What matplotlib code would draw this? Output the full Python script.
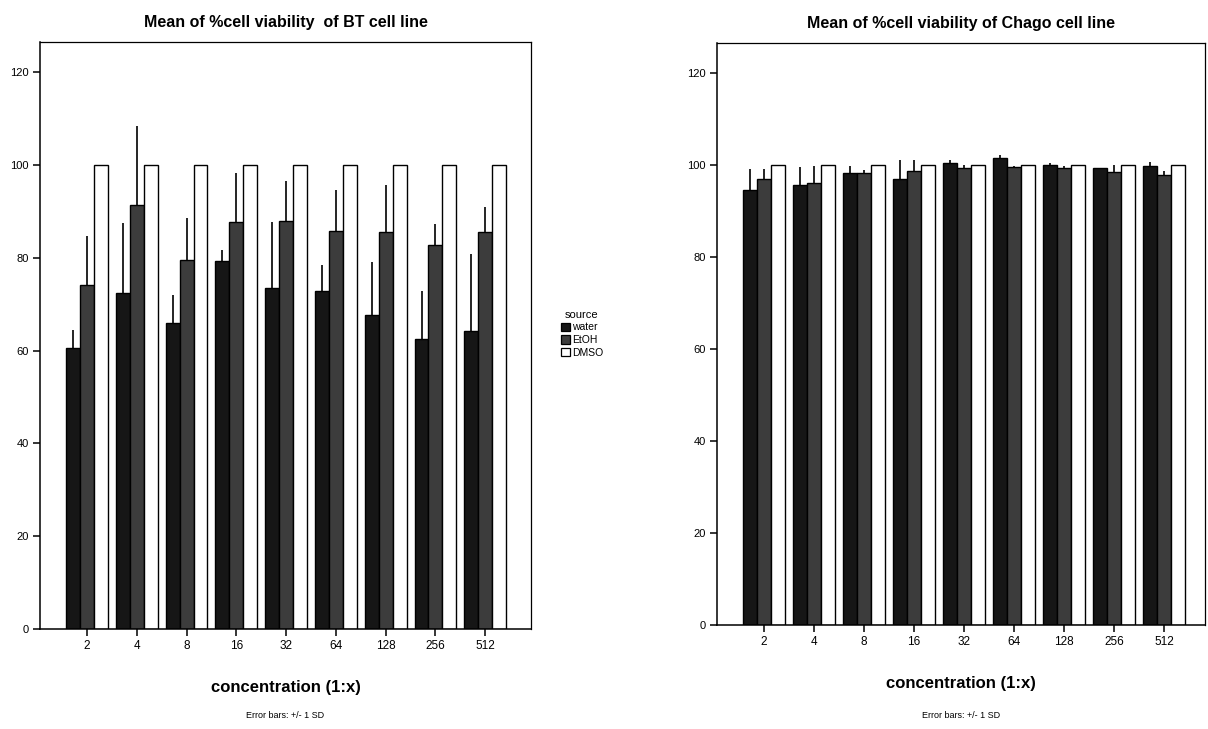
import matplotlib
matplotlib.use("Agg")
import matplotlib.pyplot as plt
from matplotlib.patches import Patch
import numpy as np

plt.rcParams['font.family'] = ['Liberation Sans', 'DejaVu Sans']

categories = ["2", "4", "8", "16", "32", "64", "128", "256", "512"]
series = ["water", "EtOH", "DMSO"]

bt_water = [60.6, 72.4, 65.9, 79.2, 73.4, 72.9, 67.6, 62.4, 64.2]
bt_water_sd = [3.8, 15.0, 6.0, 2.5, 14.2, 5.6, 11.4, 10.5, 16.6]
bt_etoh = [74.1, 91.4, 79.5, 87.6, 88.0, 85.7, 85.5, 82.7, 85.5]
bt_etoh_sd = [10.6, 16.9, 9.0, 10.6, 8.6, 8.8, 10.1, 4.6, 5.5]
bt_dmso = [100, 100, 100, 100, 100, 100, 100, 100, 100]
bt_dmso_sd = [0, 0, 0, 0, 0, 0, 0, 0, 0]

ch_water = [94.5, 95.6, 98.3, 97.0, 100.4, 101.6, 100.1, 99.3, 99.8]
ch_water_sd = [4.6, 4.0, 1.5, 4.0, 0.8, 0.5, 0.3, 0.1, 0.9]
ch_etoh = [97.0, 96.2, 98.3, 98.8, 99.4, 99.6, 99.4, 98.6, 97.8]
ch_etoh_sd = [2.1, 3.6, 0.6, 2.2, 0.7, 0.3, 0.3, 1.5, 0.9]
ch_dmso = [100, 100, 100, 100, 100, 100, 100, 100, 100]
ch_dmso_sd = [0, 0, 0, 0, 0, 0, 0, 0, 0]

titles = ["Mean of %cell viability  of BT cell line",
          "Mean of %cell viability of Chago cell line"]
xlabel = "concentration (1:x)"
note = "Error bars: +/- 1 SD"
yticks = [0, 20, 40, 60, 80, 100, 120]

colors = ["#161616", "#3c3c3c", "#ffffff"]

fig = plt.figure(figsize=(12.08, 7.29), dpi=100)
fig.patch.set_facecolor("white")

ax_bt = fig.add_axes([0.0331, 0.1372, 0.4065, 0.8052])
ax_ch = fig.add_axes([0.5935, 0.1427, 0.4040, 0.7980])

def draw(ax, vals, sds, title, xlim, note_y):
    x = np.arange(len(categories))
    w = 0.28
    offs = [-w, 0, w]
    for v, s, c, o in zip(vals, sds, colors, offs):
        ax.bar(x + o, v, width=w, color=c, edgecolor="black", linewidth=1.0, zorder=2)
        s = np.array(s)
        mask = s > 0
        ax.errorbar((x + o)[mask], np.array(v)[mask],
                    yerr=[np.zeros(mask.sum()), s[mask]],
                    fmt="none", ecolor="black", elinewidth=1.2, capsize=0, zorder=3)
    ax.set_xlim(*xlim)
    ax.set_ylim(0, 126.5)
    ax.set_xticks(x)
    ax.set_xticklabels(categories, fontsize=8.5)
    ax.set_yticks(yticks)
    ax.set_yticklabels([str(t) for t in yticks], fontsize=8)
    ax.tick_params(axis="both", direction="out", length=5, width=1.1, pad=3)
    for sp in ax.spines.values():
        sp.set_linewidth(1.1)
        sp.set_color("black")
    ax.spines["top"].set_linewidth(0.9)
    ax.spines["right"].set_linewidth(0.9)
    ax.set_title(title, fontsize=11.5, fontweight="bold", pad=11)
    ax.set_xlabel(xlabel, fontsize=12, fontweight="bold", labelpad=20)
    ax.text(0.5, note_y, note, transform=ax.transAxes, ha="center", va="center",
            fontsize=6.5)

draw(ax_bt, [bt_water, bt_etoh, bt_dmso], [bt_water_sd, bt_etoh_sd, bt_dmso_sd],
     titles[0], (-0.945, 8.92), -0.148)
draw(ax_ch, [ch_water, ch_etoh, ch_dmso], [ch_water_sd, ch_etoh_sd, ch_dmso_sd],
     titles[1], (-0.93, 8.81), -0.156)

handles = [Patch(facecolor=c, edgecolor="black", linewidth=0.9, label=s)
           for c, s in zip(colors, series)]
leg = fig.legend(handles=handles, title="source", loc="upper left",
                 bbox_to_anchor=(0.458, 0.585), frameon=False, fontsize=7.5,
                 title_fontsize=8, handlelength=0.9, handleheight=0.9,
                 handletextpad=0.2, labelspacing=0.25, borderpad=0.2)

fig.savefig("out.png", dpi=100, facecolor="white")
